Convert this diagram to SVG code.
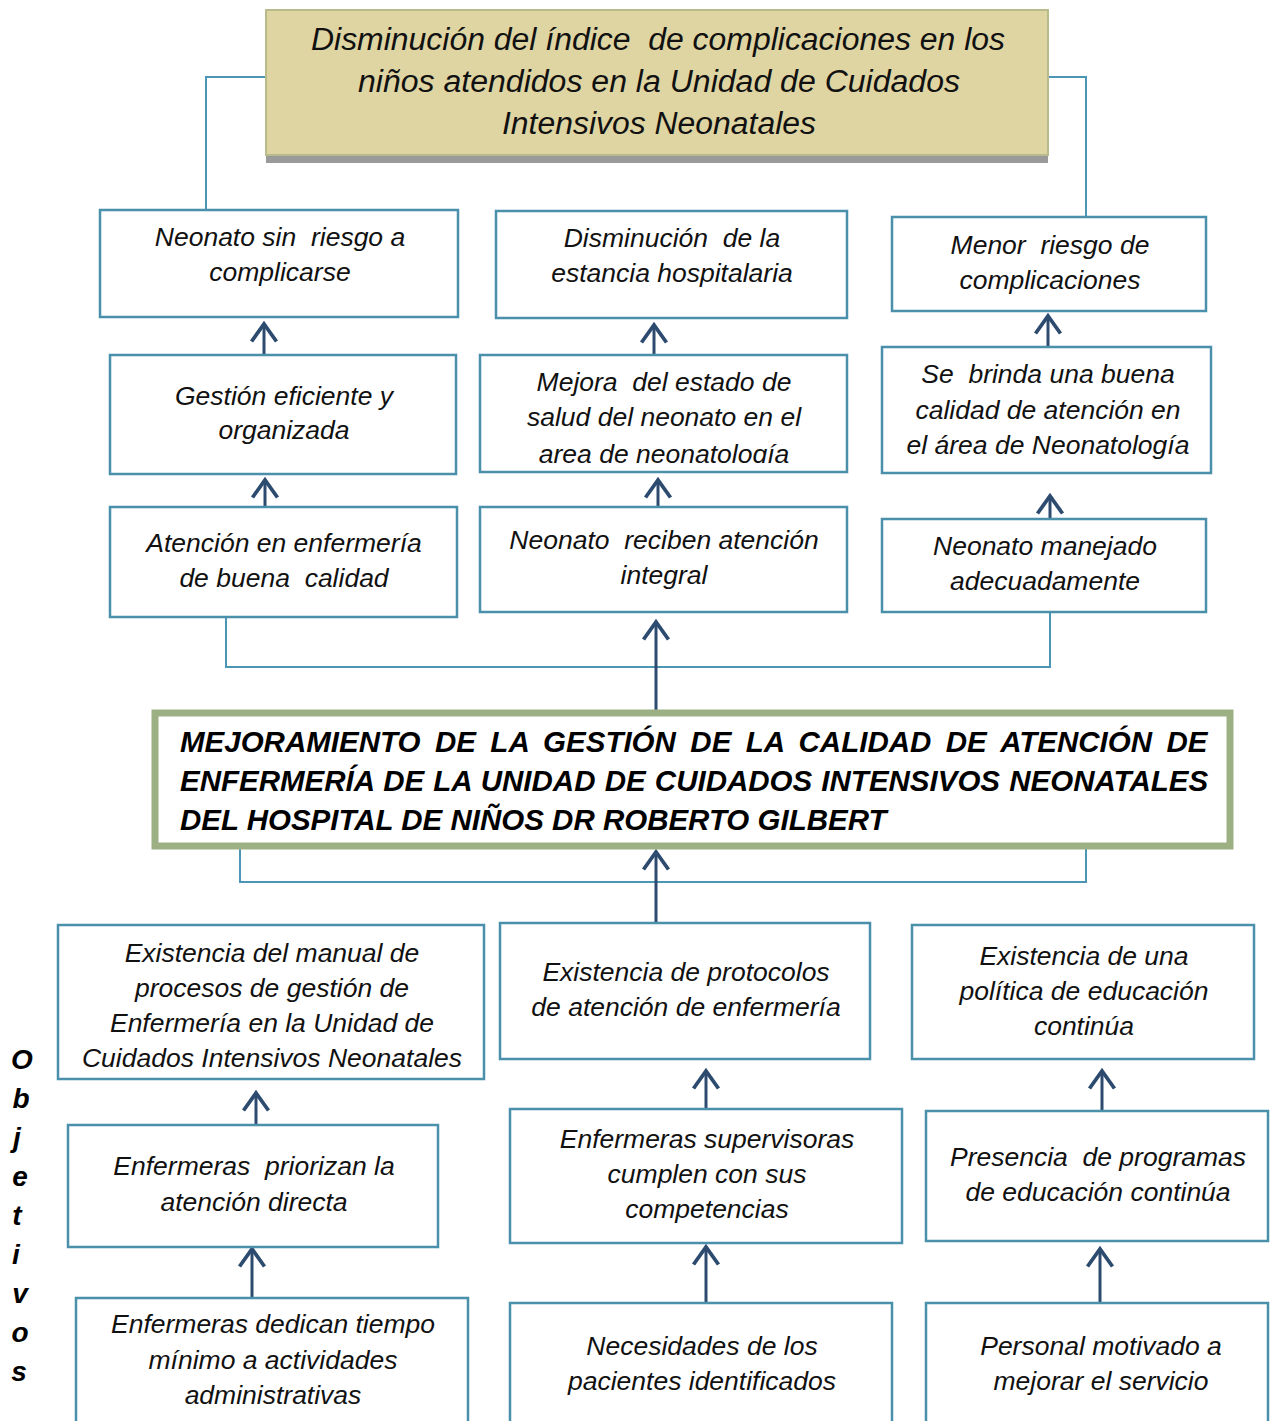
<svg xmlns="http://www.w3.org/2000/svg" width="1275" height="1421" viewBox="0 0 1275 1421">
<style>
text{white-space:pre}
.box{fill:#fff;stroke:#4a90aa;stroke-width:2.5}
.t{font-family:"Liberation Sans",Arial,sans-serif;font-style:italic;font-size:26.5px;fill:#111;text-anchor:middle}
.top{font-family:"Liberation Sans",Arial,sans-serif;font-style:italic;font-size:31px;fill:#111;text-anchor:middle}
.main{font-family:"Liberation Sans",Arial,sans-serif;font-style:italic;font-weight:bold;font-size:29.5px;fill:#000}
.obj{font-family:"Liberation Sans",Arial,sans-serif;font-style:italic;font-weight:bold;font-size:28px;fill:#000;text-anchor:middle}
.conn{fill:none;stroke:#4a96b4;stroke-width:2}
.arr{fill:none;stroke:#2d4b6f;stroke-width:3;marker-end:url(#ah)}
</style>
<defs>
<marker id="ah" markerUnits="userSpaceOnUse" markerWidth="30" markerHeight="30" viewBox="-16 -12 20 24" refX="0" refY="0" orient="auto">
<path d="M -14 -10 L 0 0 L -14 10" fill="none" stroke="#2d4b6f" stroke-width="3"/>
</marker>
<clipPath id="cb2"><rect x="481" y="356" width="365" height="107"/></clipPath>
</defs>
<rect width="1275" height="1421" fill="#fff"/>

<g id="connectors">
<polyline class="conn" points="266,77 206,77 206,210"/>
<polyline class="conn" points="1048,77 1086,77 1086,217"/>
<polyline class="conn" points="226,617 226,667 1050,667 1050,612"/>
<polyline class="conn" points="240,848 240,882 1086,882 1086,848"/>
<line class="arr" x1="264" y1="355" x2="264" y2="324"/>
<line class="arr" x1="654" y1="355" x2="654" y2="325"/>
<line class="arr" x1="1048" y1="347" x2="1048" y2="316"/>
<line class="arr" x1="265" y1="507" x2="265" y2="480"/>
<line class="arr" x1="658" y1="507" x2="658" y2="480"/>
<line class="arr" x1="1050" y1="519" x2="1050" y2="496"/>
<line class="arr" x1="656" y1="711" x2="656" y2="622"/>
<line class="arr" x1="656" y1="922" x2="656" y2="852"/>
<line class="arr" x1="256" y1="1125" x2="256" y2="1093"/>
<line class="arr" x1="706" y1="1109" x2="706" y2="1071"/>
<line class="arr" x1="1102" y1="1111" x2="1102" y2="1071"/>
<line class="arr" x1="252" y1="1298" x2="252" y2="1249"/>
<line class="arr" x1="706" y1="1303" x2="706" y2="1247"/>
<line class="arr" x1="1100" y1="1303" x2="1100" y2="1249"/>
</g>

<g id="top">
<rect x="266" y="154" width="782" height="9" fill="#9a9a9a"/>
<rect x="266" y="10" width="782" height="145" fill="#dfd5a3" stroke="#b8bc8c" stroke-width="2"/>
<text class="top" x="658" y="50" textLength="694" lengthAdjust="spacingAndGlyphs">Disminución del índice  de complicaciones en los</text>
<text class="top" x="659" y="92" textLength="602" lengthAdjust="spacingAndGlyphs">niños atendidos en la Unidad de Cuidados</text>
<text class="top" x="659" y="134" textLength="314" lengthAdjust="spacingAndGlyphs">Intensivos Neonatales</text>
</g>

<g id="a1"><rect class="box" x="100" y="210" width="358" height="107"/>
<text class="t" x="280" y="246">Neonato sin  riesgo a</text><text class="t" x="280" y="281">complicarse</text></g>
<g id="a2"><rect class="box" x="496" y="211" width="351" height="107"/>
<text class="t" x="672" y="247">Disminución  de la</text><text class="t" x="672" y="282">estancia hospitalaria</text></g>
<g id="a3"><rect class="box" x="892" y="217" width="314" height="94"/>
<text class="t" x="1050" y="254">Menor  riesgo de</text><text class="t" x="1050" y="289">complicaciones</text></g>

<g id="b1"><rect class="box" x="110" y="355" width="346" height="119"/>
<text class="t" x="284" y="405">Gestión eficiente y</text><text class="t" x="284" y="439">organizada</text></g>
<g id="b2"><rect class="box" x="480" y="355" width="367" height="117"/>
<g clip-path="url(#cb2)"><text class="t" x="664" y="391">Mejora  del estado de</text><text class="t" x="664" y="426">salud del neonato en el</text><text class="t" x="664" y="463">area de neonatología</text></g></g>
<g id="b3"><rect class="box" x="882" y="347" width="329" height="126"/>
<text class="t" x="1048" y="383">Se  brinda una buena</text><text class="t" x="1048" y="419">calidad de atención en</text><text class="t" x="1048" y="454">el área de Neonatología</text></g>

<g id="c1"><rect class="box" x="110" y="507" width="347" height="110"/>
<text class="t" x="284" y="552">Atención en enfermería</text><text class="t" x="284" y="587">de buena  calidad</text></g>
<g id="c2"><rect class="box" x="480" y="507" width="367" height="105"/>
<text class="t" x="664" y="549">Neonato  reciben atención</text><text class="t" x="664" y="584">integral</text></g>
<g id="c3"><rect class="box" x="882" y="519" width="324" height="93"/>
<text class="t" x="1045" y="555">Neonato manejado</text><text class="t" x="1045" y="590">adecuadamente</text></g>

<g id="main">
<rect x="155" y="713" width="1075" height="133" fill="#fff" stroke="#9cb084" stroke-width="7"/>
<text class="main" x="180" y="752" word-spacing="6.3">MEJORAMIENTO DE LA GESTIÓN DE LA CALIDAD DE ATENCIÓN DE</text>
<text class="main" x="180" y="791" word-spacing="1">ENFERMERÍA DE LA UNIDAD DE CUIDADOS INTENSIVOS NEONATALES</text>
<text class="main" x="180" y="830">DEL HOSPITAL DE NIÑOS DR ROBERTO GILBERT</text>
</g>

<g id="d1"><rect class="box" x="58" y="925" width="426" height="154"/>
<text class="t" x="272" y="962">Existencia del manual de</text><text class="t" x="272" y="997">procesos de gestión de</text><text class="t" x="272" y="1032">Enfermería en la Unidad de</text><text class="t" x="272" y="1067">Cuidados Intensivos Neonatales</text></g>
<g id="d2"><rect class="box" x="500" y="923" width="370" height="136"/>
<text class="t" x="686" y="981">Existencia de protocolos</text><text class="t" x="686" y="1016">de atención de enfermería</text></g>
<g id="d3"><rect class="box" x="912" y="925" width="342" height="134"/>
<text class="t" x="1084" y="965">Existencia de una</text><text class="t" x="1084" y="1000">política de educación</text><text class="t" x="1084" y="1035">continúa</text></g>

<g id="e1"><rect class="box" x="68" y="1125" width="370" height="122"/>
<text class="t" x="254" y="1175">Enfermeras  priorizan la</text><text class="t" x="254" y="1211">atención directa</text></g>
<g id="e2"><rect class="box" x="510" y="1109" width="392" height="134"/>
<text class="t" x="707" y="1148">Enfermeras supervisoras</text><text class="t" x="707" y="1183">cumplen con sus</text><text class="t" x="707" y="1218">competencias</text></g>
<g id="e3"><rect class="box" x="926" y="1111" width="342" height="130"/>
<text class="t" x="1098" y="1166">Presencia  de programas</text><text class="t" x="1098" y="1201">de educación continúa</text></g>

<g id="f1"><rect class="box" x="76" y="1298" width="392" height="130"/>
<text class="t" x="273" y="1333">Enfermeras dedican tiempo</text><text class="t" x="273" y="1369">mínimo a actividades</text><text class="t" x="273" y="1404">administrativas</text></g>
<g id="f2"><rect class="box" x="510" y="1303" width="382" height="125"/>
<text class="t" x="702" y="1355">Necesidades de los</text><text class="t" x="702" y="1390">pacientes identificados</text></g>
<g id="f3"><rect class="box" x="926" y="1303" width="342" height="125"/>
<text class="t" x="1101" y="1355">Personal motivado a</text><text class="t" x="1101" y="1390">mejorar el servicio</text></g>

<g id="objetivos">
<text class="obj" x="22" y="1069">O</text>
<text class="obj" x="21" y="1108">b</text>
<text class="obj" x="17" y="1147">j</text>
<text class="obj" x="20" y="1186">e</text>
<text class="obj" x="17" y="1225">t</text>
<text class="obj" x="16" y="1264">i</text>
<text class="obj" x="20" y="1303">v</text>
<text class="obj" x="20" y="1342">o</text>
<text class="obj" x="19" y="1381">s</text>
</g>
</svg>
